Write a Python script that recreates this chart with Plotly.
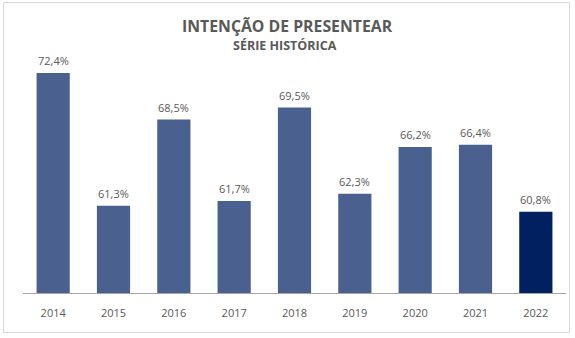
import plotly.graph_objects as go

years = ["2014", "2015", "2016", "2017", "2018", "2019", "2020", "2021", "2022"]
values = [72.4, 61.3, 68.5, 61.7, 69.5, 62.3, 66.2, 66.4, 60.8]
labels = ["72,4%", "61,3%", "68,5%", "61,7%", "69,5%", "62,3%", "66,2%", "66,4%", "60,8%"]
colors = ["#4A6190"] * 8 + ["#012060"]

W, H = 575, 338
L, R, T, B = 23, 9, 50, 45
ph = H - T - B
pw = W - L - R

def py(pix):
    return (H - B - pix) / ph

def px(pix):
    return (pix - L) / pw

fig = go.Figure(go.Bar(x=years, y=values, marker=dict(color=colors, line=dict(width=0)),
                       hoverinfo="skip"))

for i, (v, lab) in enumerate(zip(values, labels)):
    fig.add_annotation(x=i, y=v, text=lab, showarrow=False, yanchor="bottom", yshift=3,
                       font=dict(family="Open Sans", size=11, color="#595959"))

fig.add_annotation(xref="paper", yref="paper", x=px(287), y=py(26), text="<b>INTENÇÃO DE PRESENTEAR</b>",
                   showarrow=False, yanchor="middle", xanchor="center",
                   font=dict(family="Open Sans", size=15.8, color="#595959"))
fig.add_annotation(xref="paper", yref="paper", x=px(285), y=py(45.5), text="<b>SÉRIE HISTÓRICA</b>",
                   showarrow=False, yanchor="middle", xanchor="center",
                   font=dict(family="Open Sans", size=12.5, color="#595959"))

fig.add_shape(type="rect", xref="paper", yref="paper", x0=px(3.5), x1=px(569.5), y0=py(332.5), y1=py(2.5),
              line=dict(color="#D9D9D9", width=1), fillcolor="rgba(0,0,0,0)", layer="below")

fig.update_layout(
    width=W, height=H,
    margin=dict(l=L, r=R, t=T, b=B),
    paper_bgcolor="white", plot_bgcolor="white",
    bargap=0.45, showlegend=False,
    xaxis=dict(type="category", range=[-0.5, len(years) - 0.5], showline=True, linecolor="#A6A6A6",
               linewidth=1, ticks="", showgrid=False,
               tickfont=dict(family="Open Sans", size=11, color="#595959"), ticklabelstandoff=10,
               fixedrange=True),
    yaxis=dict(range=[54, 54 + ph / 11.96], visible=False, showgrid=False, fixedrange=True),
)

fig.write_html("out.html", config={"displayModeBar": False})
